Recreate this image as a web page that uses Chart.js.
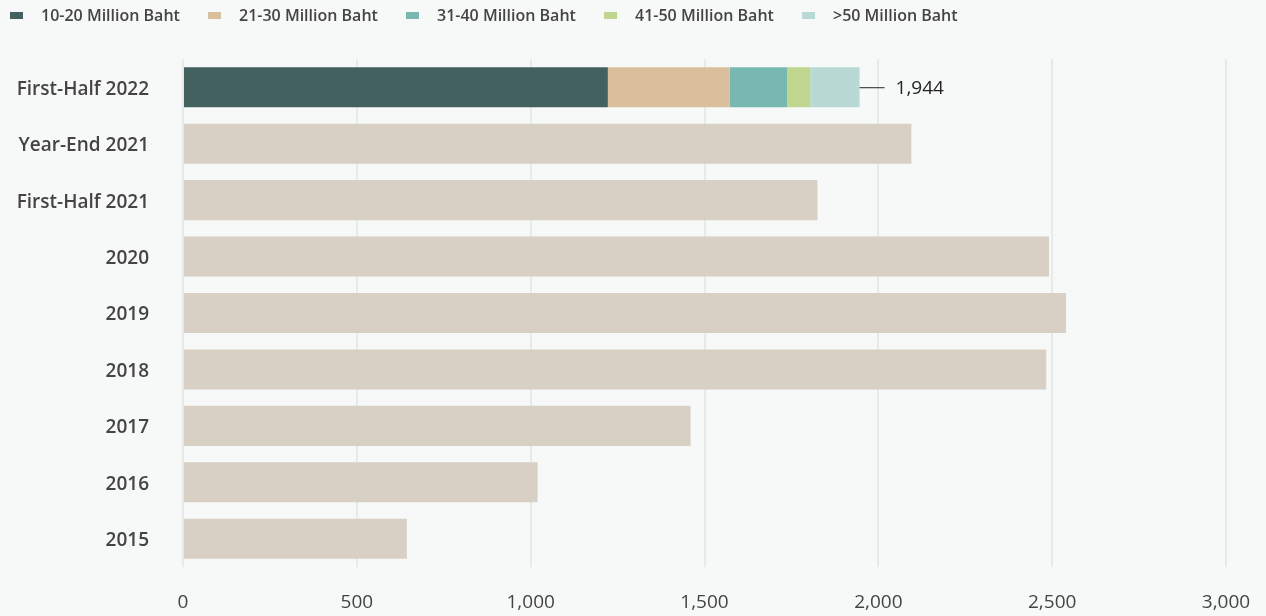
<!DOCTYPE html>
<html>
<head>
<meta charset="utf-8">
<script src="https://cdn.jsdelivr.net/npm/chart.js@4"></script>
<style>
  html, body { margin: 0; padding: 0; background: #f7f9f8; }
  #wrap { position: relative; width: 1266px; height: 616px; }
  #legend { position: absolute; left: 10px; top: 4px; display: flex; font-family: "Open Sans", sans-serif;
    font-weight: 600; font-size: 16px; color: #444; }
  #legend .item { display: flex; align-items: center; width: 198px; }
  #legend .box { width: 13px; height: 7px; margin-right: 18px; }
</style>
</head>
<body>
<div id="wrap">
  <canvas id="chart" width="1266" height="616"></canvas>
  <div id="legend"></div>
</div>
<script>
const categories = ["First-Half 2022", "Year-End 2021", "First-Half 2021", "2020", "2019", "2018", "2017", "2016", "2015"];
const segLabels = ["10-20 Million Baht", "21-30 Million Baht", "31-40 Million Baht", "41-50 Million Baht", ">50 Million Baht"];
const segColors = ["#43625f", "#d9bf9c", "#79b7b1", "#c0d68e", "#b9d9d4"];
// First-Half 2022 breakdown
const seg1020 = [1222, null, null, null, null, null, null, null, null];
const seg2130 = [350, null, null, null, null, null, null, null, null];
const seg3140 = [166, null, null, null, null, null, null, null, null];
const seg4150 = [66, null, null, null, null, null, null, null, null];
const seg50 = [142, null, null, null, null, null, null, null, null];
// totals of earlier periods
const totals = [null, 2095, 1825, 2491, 2540, 2483, 1460, 1020, 644];
const latestTotal = 1944;
const xTicks = [0, 500, 1000, 1500, 2000, 2500, 3000];

const segData = [seg1020, seg2130, seg3140, seg4150, seg50];

const datasets = segData.map((d, i) => ({
  label: segLabels[i],
  data: d,
  backgroundColor: segColors[i],
  barPercentage: 0.71,
  categoryPercentage: 1,
}));
datasets.push({
  label: "Total",
  data: totals,
  backgroundColor: "#d8d0c4",
  barPercentage: 0.71,
  categoryPercentage: 1,
});

// html legend
const legendEl = document.getElementById("legend");
segLabels.forEach((l, i) => {
  const it = document.createElement("div");
  it.className = "item";
  it.innerHTML = `<span class="box" style="background:${segColors[i]}"></span><span>${l}</span>`;
  legendEl.appendChild(it);
});

const totalLabel = {
  id: "totalLabel",
  afterDatasetsDraw(chart) {
    const { ctx, scales } = chart;
    const x = scales.x.getPixelForValue(seg1020[0] + seg2130[0] + seg3140[0] + seg4150[0] + seg50[0]);
    const y = scales.y.getPixelForValue(0);
    ctx.save();
    ctx.strokeStyle = "#222";
    ctx.lineWidth = 1;
    ctx.beginPath();
    ctx.moveTo(x, y + 0.5);
    ctx.lineTo(x + 25, y + 0.5);
    ctx.stroke();
    ctx.fillStyle = "#222";
    ctx.font = "500 19px 'Open Sans'";
    ctx.textBaseline = "middle";
    ctx.fillText(latestTotal.toLocaleString("en-US"), x + 36, y + 1);
    ctx.restore();
  }
};

const bgPlugin = {
  id: "bg",
  beforeDraw(chart) {
    const ctx = chart.ctx;
    ctx.save();
    ctx.fillStyle = "#f7f9f8";
    ctx.fillRect(0, 0, chart.width, chart.height);
    ctx.restore();
  }
};

new Chart(document.getElementById("chart"), {
  type: "bar",
  data: { labels: categories, datasets },
  plugins: [bgPlugin, totalLabel],
  options: {
    indexAxis: "y",
    responsive: false,
    animation: false,
    layout: { padding: { top: 59, right: 40, bottom: 0, left: 0 } },
    plugins: {
      legend: { display: false },
      tooltip: { enabled: false },
    },
    scales: {
      x: {
        stacked: true,
        min: 0,
        max: 3000,
        afterBuildTicks: (axis) => { axis.ticks = xTicks.map(v => ({ value: v })); },
        afterFit: (axis) => {
          axis.height = 49;
          axis.paddingLeft = 0;
          axis.paddingRight = 0;
        },
        grid: { color: "#e7eae9", lineWidth: 2, drawTicks: false },
        border: { display: false },
        ticks: {
          color: "#444",
          font: { family: "Open Sans", size: 19 },
          padding: 24,
          callback: (v) => v.toLocaleString("en-US"),
        },
      },
      y: {
        stacked: true,
        afterFit: (axis) => {
          axis.width = 183;
          axis.paddingTop = 0;
          axis.paddingBottom = 0;
        },
        grid: { display: false },
        border: { display: false },
        ticks: {
          color: "#444",
          font: { family: "Open Sans", size: 19, weight: "600" },
          padding: 26,
          labelOffset: 2,
        },
      },
    },
  },
});
</script>
</body>
</html>
